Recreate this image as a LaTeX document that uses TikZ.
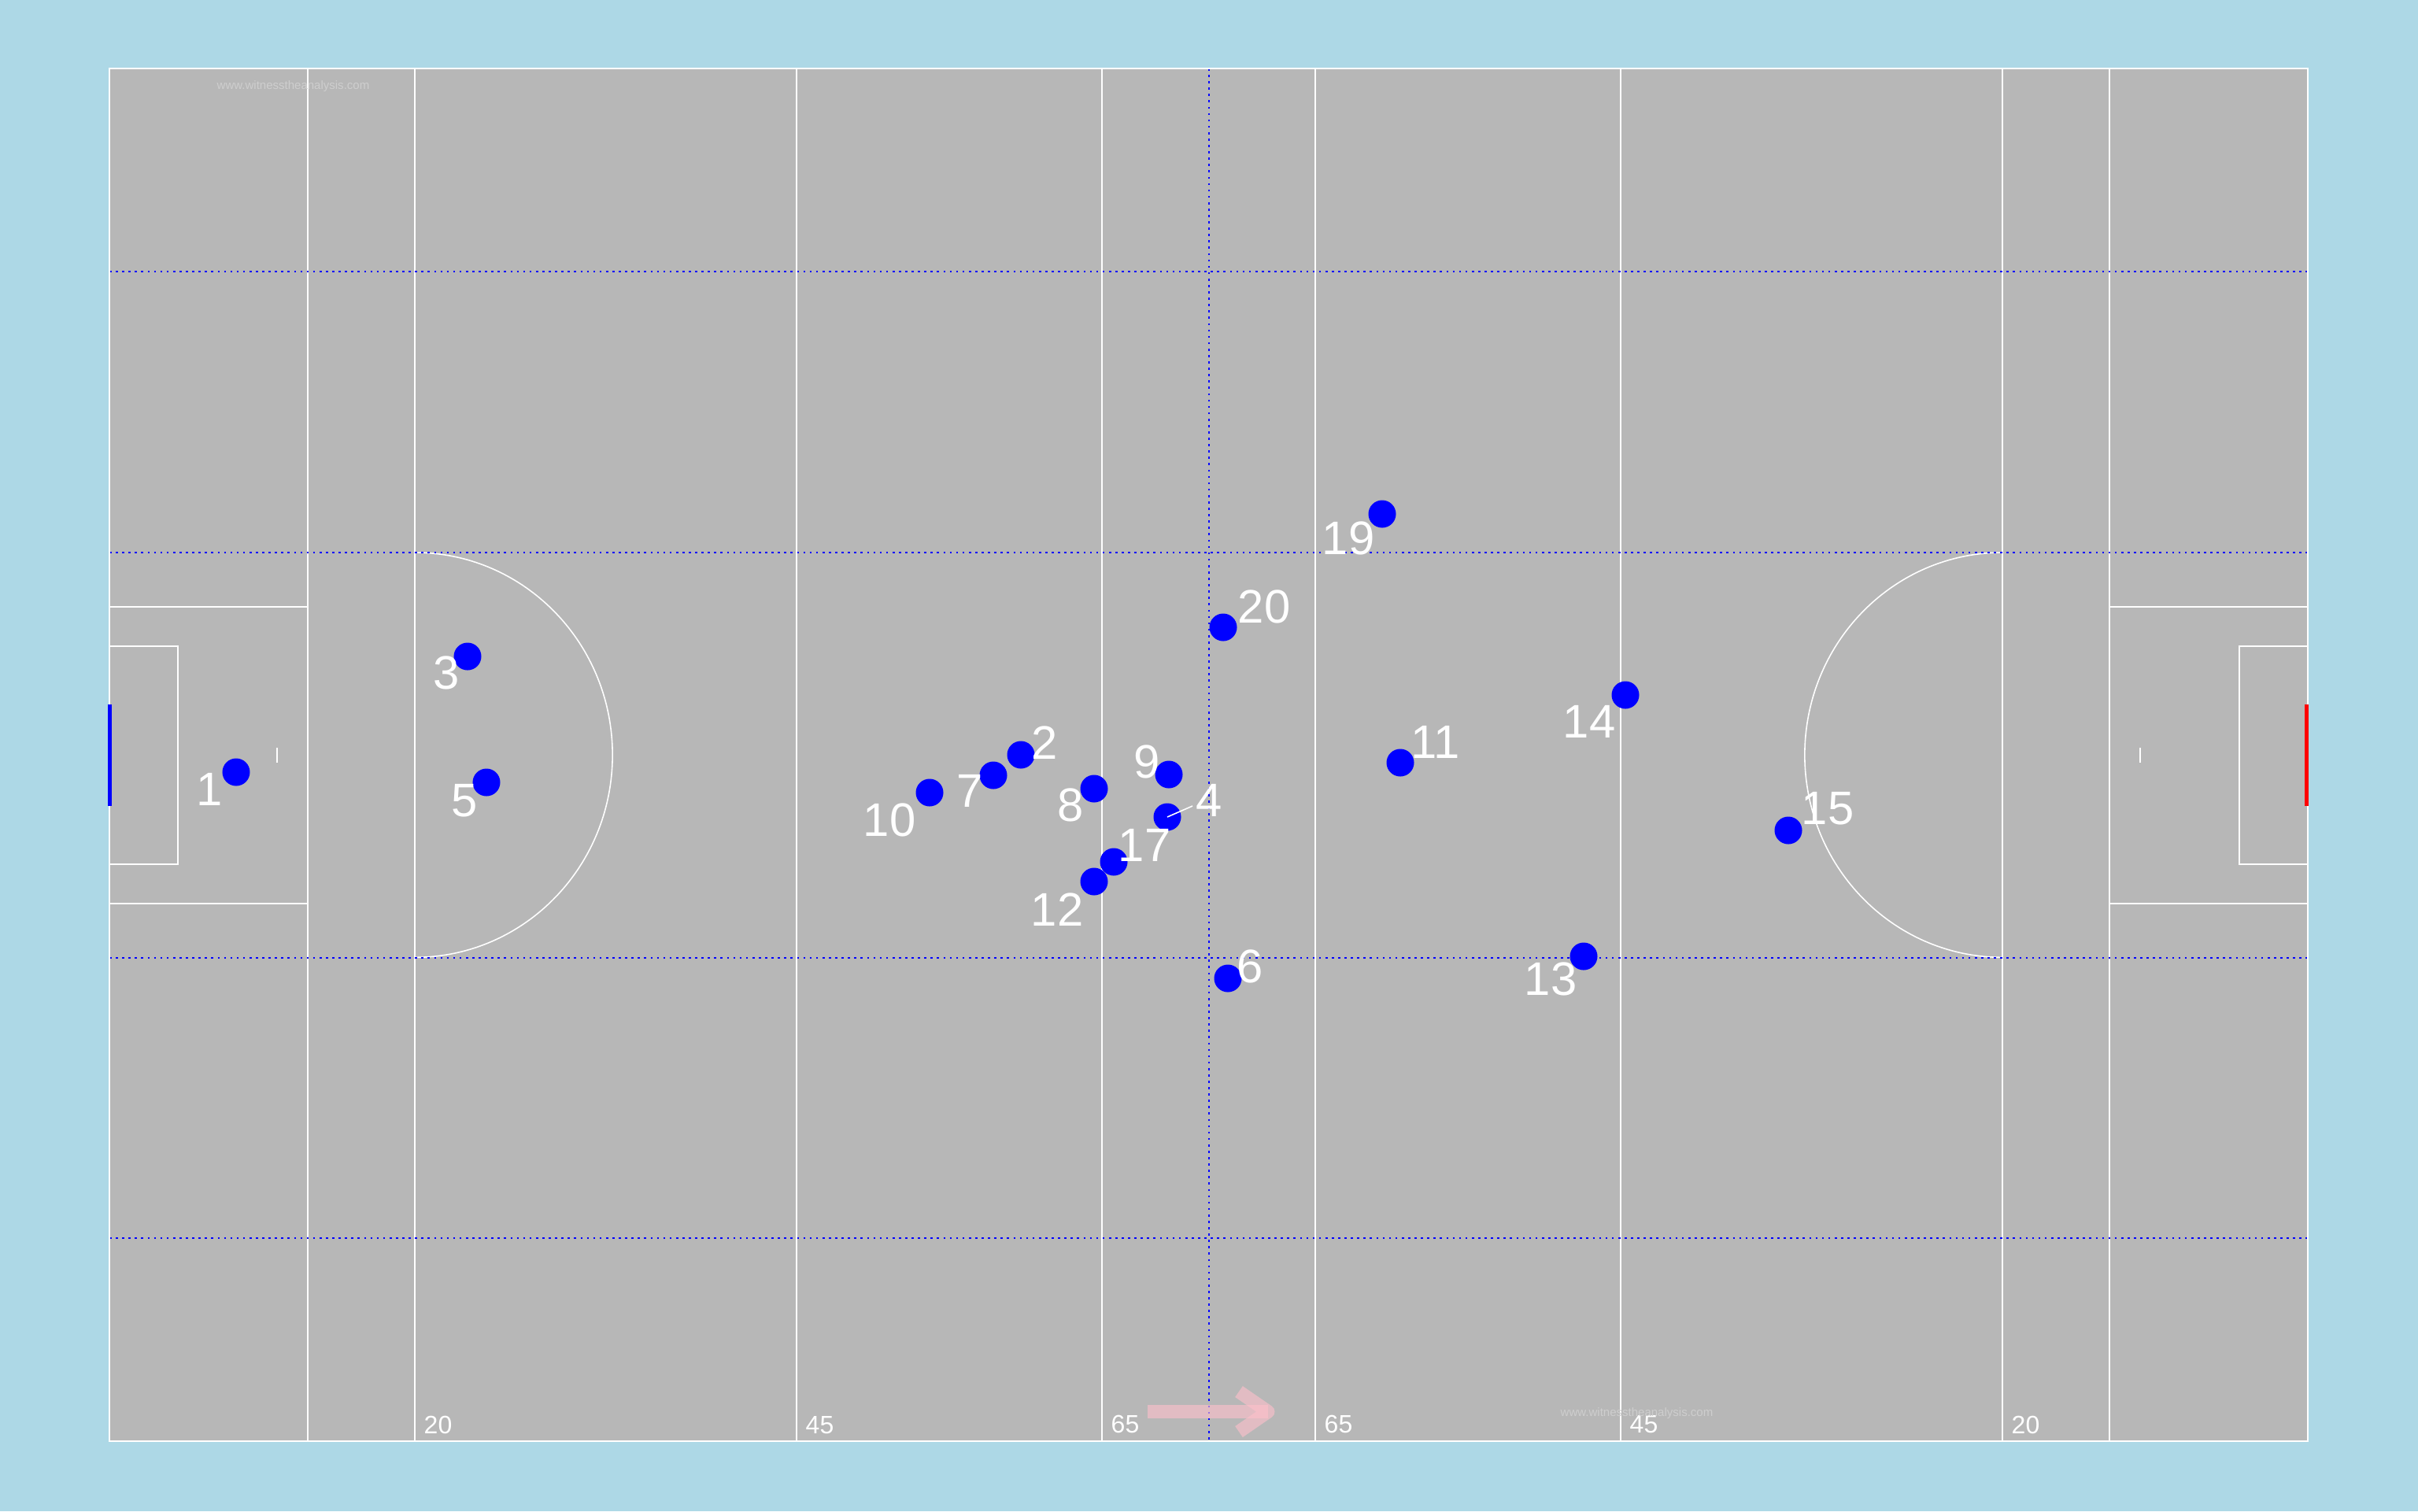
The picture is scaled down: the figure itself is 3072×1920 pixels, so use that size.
\documentclass[tikz,border=0pt]{standalone}
\usepackage{fontspec}
\setmainfont{Liberation Sans}
\definecolor{bgblue}{RGB}{173,216,230}
\definecolor{pitchgrey}{RGB}{183,183,183}
\definecolor{wmgrey}{RGB}{206,206,206}
\definecolor{arrowpink}{RGB}{255,192,203}
\begin{document}
\begin{tikzpicture}[x=0.01cm,y=-0.01cm,
  pline/.style={white,line width=0.57pt},
  arcline/.style={white,line width=0.45pt},
  dotline/.style={blue,line width=0.75pt,dash pattern=on 0.75pt off 1.55pt},
  player/.style={circle,fill=blue,minimum size=0.35cm,inner sep=0pt},
  num/.style={text=white,font=\fontsize{17}{20}\selectfont,inner sep=0pt,anchor=base},
  dist/.style={text=white,font=\fontsize{9.1}{11}\selectfont,inner sep=0pt,anchor=base west},
  wmark/.style={text=wmgrey,font=\fontsize{4.27}{5}\selectfont,inner sep=0pt,anchor=base west},
  arr/.style={arrowpink,opacity=0.6,line width=0.17cm}
]
\fill[bgblue] (0,0) rectangle (3072,1920);
\useasboundingbox (0,0) rectangle (3072,1920);
% pitch
\fill[pitchgrey] (139,87) rectangle (2932,1831);
\foreach \xx in {391,527,1012,1400,1671,2059,2544,2680}
  \draw[pline] (\xx,87) -- (\xx,1831);
% left end
\draw[pline] (139,771) -- (391,771);
\draw[pline] (139,1148) -- (391,1148);
\draw[pline] (139,821) -- (226,821) -- (226,1098) -- (139,1098);
\draw[pline] (352,950) -- (352,969);
\draw[arcline] (527,702) arc[start angle=90,end angle=-90,x radius=2.51cm,y radius=2.57cm];
% right end
\draw[pline] (2680,771) -- (2932,771);
\draw[pline] (2680,1148) -- (2932,1148);
\draw[pline] (2932,821) -- (2845,821) -- (2845,1098) -- (2932,1098);
\draw[pline] (2719,950) -- (2719,969);
\draw[arcline] (2544,702) arc[start angle=90,end angle=270,x radius=2.51cm,y radius=2.57cm];
% dotted guides
\foreach \yy in {345,702,1217,1573}
  \draw[dotline] (139,\yy) -- (2932,\yy);
\draw[dotline] (1536,87) -- (1536,1831);
% border
\draw[pline] (139,87) rectangle (2932,1831);
% goals
\fill[blue] (137,895) rectangle (142,1024);
\fill[red] (2928,895) rectangle (2933,1024);
% distance labels
\node[dist] (d20l) at (538,1821) {20};
\node[dist] (d45l) at (1023,1821) {45};
\node[dist] (d65l) at (1411,1820) {65};
\node[dist] (d65r) at (1682,1820) {65};
\node[dist] (d45r) at (2070,1820) {45};
\node[dist] (d20r) at (2555,1821) {20};
% watermarks
\node[wmark] (wm1) at (275,113) {www.witnesstheanalysis.com};
\node[wmark] (wm2) at (1982,1799) {www.witnesstheanalysis.com};
% direction arrow
\draw[arr] (1458,1793.5) -- (1611,1793.5);
\draw[arr,line join=round] (1574,1768) -- (1611,1793.5) -- (1574,1819);
% players
\foreach \n/\px/\py in {1/300/981,3/594/834,5/618/994,10/1181/1007,7/1262/985,2/1297/959,
  8/1390/1002,9/1485/984,4/1483/1038,17/1415/1095,12/1390/1120,20/1554/797,19/1756/653,
  11/1779/969,14/2065/883,15/2272/1055,6/1560/1243,13/2012/1215}
  \node[player] (p\n) at (\px,\py) {};
\coordinate (c4) at (1515,1024);
\draw[white,line width=0.45pt] (p4.center) -- (c4);
\foreach \n/\lx/\ly in {1/266/1023,3/567/875,5/590/1037,10/1130/1062,7/1232/1025,2/1327/964,
  8/1360/1043,9/1457/988,4/1536/1037,17/1454/1094,12/1343/1176,20/1606/791,19/1713/704,
  11/1824/963,14/2019/937,15/2322/1047,6/1588/1248,13/1970/1264}
  \node[num] (l\n) at (\lx,\ly) {\n};
\end{tikzpicture}
\end{document}
